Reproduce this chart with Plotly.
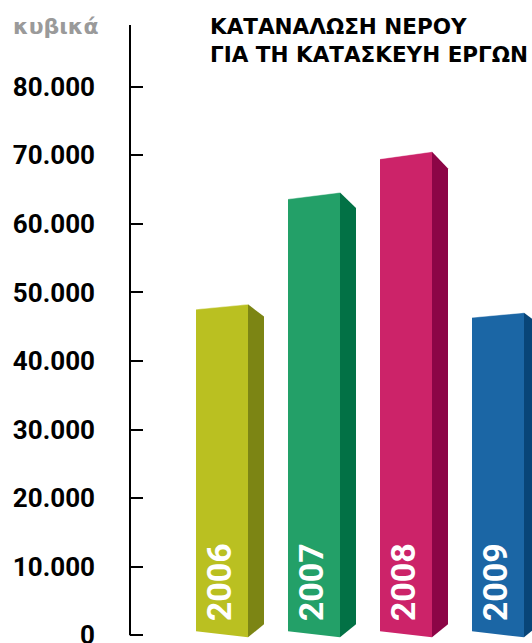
import plotly.graph_objects as go

# ---------------- data ----------------
years = ["2006", "2007", "2008", "2009"]
values = [47900, 64100, 70000, 46700]
front_colors = ["#BAC021", "#23A068", "#CC2369", "#1B66A5"]
side_colors = ["#7C8514", "#027145", "#8C0546", "#084578"]
tick_vals = [0, 10000, 20000, 30000, 40000, 50000, 60000, 70000, 80000]
tick_text = ["0", "10.000", "20.000", "30.000", "40.000", "50.000", "60.000", "70.000", "80.000"]
unit_label = "κυβικά"
title_lines = ["ΚΑΤΑΝΑΛΩΣΗ ΝΕΡΟΥ", "ΓΙΑ ΤΗ ΚΑΤΑΣΚΕΥΗ ΕΡΓΩΝ"]

# ---------------- geometry / style ----------------
W, H = 532, 643
ML, MR, MT, MB = 130, 0, 25, 4
Y_MIN, Y_MAX = -540, 89000
PX_PER_CAT = 92.0
X_MIN = -1.0
X_MAX = X_MIN + (W - ML - MR) / PX_PER_CAT
UY = (Y_MAX - Y_MIN) / (H - MT - MB)   # data units per pixel (y)
UX = 1.0 / PX_PER_CAT                   # data units per pixel (x)
FRONT_HALF = 26 * UX
SIDE_DEPTH = 16 * UX


def paper_x(px):
    return (px - ML) / (W - ML - MR)


def paper_y(py):
    return 1 - (py - MT) / (H - MT - MB)


fig = go.Figure()

for i, (yr, v, fc, sc) in enumerate(zip(years, values, front_colors, side_colors)):
    h_px = v / UY
    tilt_top = 0.0075 * h_px * UY
    tilt_bot = 3.0 * UY
    bot_c = 1.0 * UY
    x0, x1 = i - FRONT_HALF, i + FRONT_HALF
    tl, tr = v - tilt_top, v + tilt_top
    bl, br = bot_c + tilt_bot, bot_c - tilt_bot
    # front face
    fig.add_trace(go.Scatter(
        x=[x0, x1, x1, x0, x0], y=[tl, tr, br, bl, tl],
        fill="toself", fillcolor=fc, mode="lines", line=dict(width=0),
        hoverinfo="skip", showlegend=False))
    # side face
    drop = (2 + 0.031 * h_px) * UY
    rise = 13 * UY
    x2 = x1 + SIDE_DEPTH
    fig.add_trace(go.Scatter(
        x=[x1, x2, x2, x1, x1], y=[tr, tr - drop, br + rise, br, tr],
        fill="toself", fillcolor=sc, mode="lines", line=dict(width=0),
        hoverinfo="skip", showlegend=False))
    # light top edge highlight
    fig.add_trace(go.Scatter(
        x=[x0, x1], y=[tl, tr], mode="lines",
        line=dict(width=1, color="rgba(255,255,255,0.45)"),
        hoverinfo="skip", showlegend=False))
    # year label inside bar
    fig.add_annotation(
        x=i - 3 * UX, y=0, xref="x", yref="y", text=yr, textangle=-90,
        showarrow=False, xanchor="center", yanchor="bottom", yshift=12,
        font=dict(family="Roboto", size=34, color="white", weight="bold"))

# axis line (from 0 to top)
fig.add_shape(type="line", xref="paper", yref="y", x0=0, x1=0, y0=0, y1=Y_MAX,
              line=dict(color="black", width=2))

# unit label
fig.add_annotation(x=paper_x(11), y=paper_y(26), xref="paper", yref="paper",
                   text=unit_label, showarrow=False, xanchor="left", yanchor="middle",
                   font=dict(family="DejaVu Sans", size=22, color="#9A9A9A", weight="bold"))

# title (two lines)
fig.add_annotation(x=paper_x(208), y=paper_y(40), xref="paper", yref="paper",
                   text="<br>".join(title_lines), showarrow=False, align="left",
                   xanchor="left", yanchor="middle",
                   font=dict(family="DejaVu Sans", size=21.5, color="black", weight="bold"))

fig.update_layout(
    width=W, height=H, autosize=False,
    margin=dict(l=ML, r=MR, t=MT, b=MB, pad=0, autoexpand=False),
    paper_bgcolor="white", plot_bgcolor="white",
    xaxis=dict(range=[X_MIN, X_MAX], visible=False, fixedrange=True, automargin=False),
    yaxis=dict(range=[Y_MIN, Y_MAX], showgrid=False, zeroline=False, showline=False,
               automargin=False,
               tickmode="array", tickvals=tick_vals, ticktext=tick_text,
               ticks="inside", ticklen=13, tickwidth=2, tickcolor="black",
               ticklabelstandoff=34, ticklabeloverflow="allow",
               tickfont=dict(family="Roboto", size=26, color="black", weight="bold"),
               fixedrange=True),
)

fig.write_html("out.html", config={"displayModeBar": False},
               post_script="document.body.style.margin='0';document.body.style.overflow='hidden';")
